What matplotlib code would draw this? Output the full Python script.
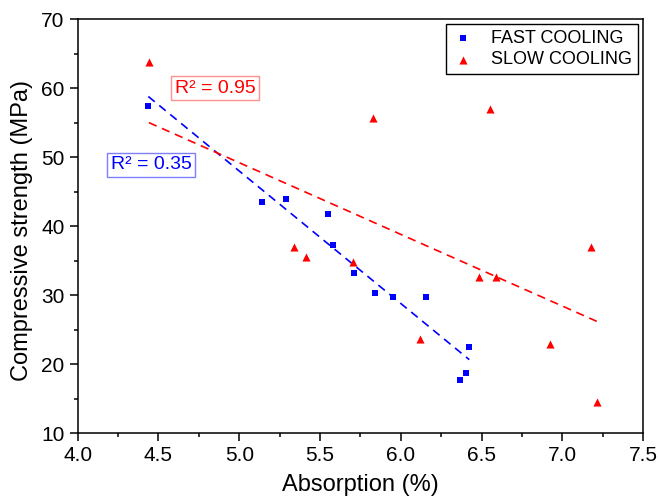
import numpy as np
import matplotlib

matplotlib.use("Agg")
import matplotlib.pyplot as plt
from matplotlib.ticker import MultipleLocator

plt.rcParams["font.family"] = ["Liberation Sans", "DejaVu Sans"]

# --------------------------------------------------------------------------- #
# Data
# --------------------------------------------------------------------------- #
fast_x = [4.437, 5.139, 5.289, 5.547, 5.578, 5.710, 5.840, 5.953, 6.153,
          6.423, 6.403, 6.368]
fast_y = [57.44, 43.54, 43.93, 41.80, 37.27, 33.17, 30.36, 29.78, 29.78,
          22.54, 18.78, 17.68]

slow_x = [4.441, 5.340, 5.415, 5.705, 5.829, 6.118, 6.481, 6.551, 6.589,
          6.921, 7.176, 7.212]
slow_y = [63.82, 37.02, 35.58, 34.81, 55.66, 23.61, 32.68, 56.97, 32.59,
          22.93, 36.94, 14.53]

series_labels = ["FAST COOLING", "SLOW COOLING"]
r2_labels = ["R\u00b2 = 0.35", "R\u00b2 = 0.95"]

BLUE = "#0000ff"
RED = "#ff0000"


def linear_fit(x, y):
    """Least-squares line over the x-range of the series."""
    x = np.asarray(x)
    k, b = np.polyfit(x, np.asarray(y), 1)
    xs = np.array([x.min(), x.max()])
    return xs, k * xs + b


fig = plt.figure(figsize=(6.6, 4.99), dpi=100)
ax = fig.add_axes([0.1177, 0.1317, 0.8570, 0.8302])

ax.scatter(fast_x, fast_y, marker="s", s=22, color=BLUE, linewidths=0,
           label=series_labels[0], zorder=3)
ax.scatter(slow_x, slow_y, marker="^", s=34, color=RED, linewidths=0,
           label=series_labels[1], zorder=3)

for x, y, c in [(fast_x, fast_y, BLUE), (slow_x, slow_y, RED)]:
    xs, ys = linear_fit(x, y)
    ax.plot(xs, ys, color=c, lw=1.2, dashes=(5, 3.5), zorder=2)

# R² annotations
ax.text(4.454, 48.86, r2_labels[0], color=BLUE, fontsize=14,
        ha="center", va="center",
        bbox=dict(boxstyle="square,pad=0.2", fc="white", ec="#7f7fff", lw=1))
ax.text(4.850, 60.0, r2_labels[1], color=RED, fontsize=14,
        ha="center", va="center",
        bbox=dict(boxstyle="square,pad=0.2", fc="white", ec="#ff9090", lw=1))

ax.set_xlim(4.0, 7.5)
ax.set_ylim(10, 70)
ax.xaxis.set_major_locator(MultipleLocator(0.5))
ax.xaxis.set_minor_locator(MultipleLocator(0.25))
ax.yaxis.set_major_locator(MultipleLocator(10))
ax.yaxis.set_minor_locator(MultipleLocator(5))
ax.tick_params(which="major", direction="out", length=5.5, width=1.1,
               labelsize=15, pad=4)
ax.tick_params(which="minor", direction="out", length=2.8, width=1.1)
ax.xaxis.set_major_formatter(matplotlib.ticker.FormatStrFormatter("%.1f"))
for s in ax.spines.values():
    s.set_linewidth(1.1)

ax.set_xlabel("Absorption (%)", fontsize=17)
ax.set_ylabel("Compressive strength (MPa)", fontsize=17)
ax.xaxis.set_label_coords(0.5, -0.098)
ax.yaxis.set_label_coords(-0.079, 0.49)

leg = ax.legend(loc="upper right", fontsize=13, frameon=True, fancybox=False,
                framealpha=1, edgecolor="black", borderaxespad=0.3,
                handletextpad=0.9, handlelength=1.3, borderpad=0.3,
                labelspacing=0.25)
leg.get_frame().set_linewidth(1.0)

fig.savefig("out.png", dpi=100)
